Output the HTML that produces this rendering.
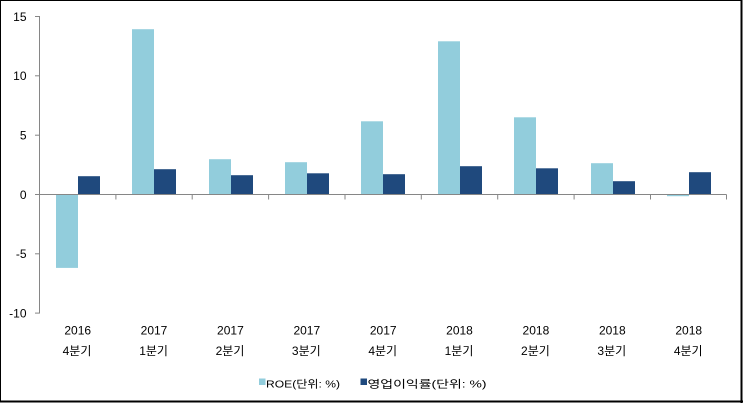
<!DOCTYPE html>
<html><head><meta charset="utf-8"><style>
html,body{margin:0;padding:0;background:#fff;}
svg{display:block;}
text{font-family:"Liberation Sans","Noto Sans CJK KR",sans-serif;fill:#000;}
</style></head><body>
<svg width="743" height="403" viewBox="0 0 743 403" xmlns="http://www.w3.org/2000/svg">
<rect x="0" y="0" width="743" height="403" fill="#fff"/>
<!-- border -->
<rect x="0.5" y="0.5" width="741" height="401" fill="none" stroke="#000" stroke-width="1"/>
<line x1="741.5" y1="0" x2="741.5" y2="403" stroke="#000" stroke-width="2"/>
<line x1="0" y1="401.5" x2="743" y2="401.5" stroke="#000" stroke-width="2"/>

<!-- ROE bars -->
<g fill="#92CDDC">
<rect x="56" y="194.5" width="22" height="73.4"/>
<rect x="132" y="29.2" width="22" height="165.3"/>
<rect x="209" y="159.2" width="22" height="35.3"/>
<rect x="285" y="162.2" width="22" height="32.3"/>
<rect x="361" y="121.3" width="22" height="73.2"/>
<rect x="438" y="41.3" width="22" height="153.2"/>
<rect x="514" y="117.3" width="22" height="77.2"/>
<rect x="591" y="163.2" width="22" height="31.3"/>
<rect x="667" y="194.5" width="22" height="1.7"/>
</g>
<!-- Operating margin bars -->
<g fill="#1F497D">
<rect x="78" y="176.2" width="22" height="18.3"/>
<rect x="154" y="169.2" width="22" height="25.3"/>
<rect x="231" y="175.2" width="22" height="19.3"/>
<rect x="307" y="173.3" width="22" height="21.2"/>
<rect x="383" y="174.2" width="22" height="20.3"/>
<rect x="460" y="166.2" width="22" height="28.3"/>
<rect x="536" y="168.3" width="22" height="26.2"/>
<rect x="613" y="181.2" width="22" height="13.3"/>
<rect x="689" y="172.2" width="22" height="22.3"/>
</g>

<!-- axes -->
<g stroke="#868686" stroke-width="1" fill="none">
<line x1="39.5" y1="16" x2="39.5" y2="313.5"/>
<line x1="39" y1="194.5" x2="726.5" y2="194.5"/>
<line x1="35" y1="16.5" x2="39.5" y2="16.5"/>
<line x1="35" y1="75.8" x2="39.5" y2="75.8"/>
<line x1="35" y1="135.2" x2="39.5" y2="135.2"/>
<line x1="35" y1="194.5" x2="39.5" y2="194.5"/>
<line x1="35" y1="253.8" x2="39.5" y2="253.8"/>
<line x1="35" y1="313.1" x2="39.5" y2="313.1"/>
<line x1="39.5" y1="194.5" x2="39.5" y2="199.5"/>
<line x1="115.9" y1="194.5" x2="115.9" y2="199.5"/>
<line x1="192.2" y1="194.5" x2="192.2" y2="199.5"/>
<line x1="268.6" y1="194.5" x2="268.6" y2="199.5"/>
<line x1="345" y1="194.5" x2="345" y2="199.5"/>
<line x1="421.3" y1="194.5" x2="421.3" y2="199.5"/>
<line x1="497.7" y1="194.5" x2="497.7" y2="199.5"/>
<line x1="574.1" y1="194.5" x2="574.1" y2="199.5"/>
<line x1="650.5" y1="194.5" x2="650.5" y2="199.5"/>
<line x1="726.5" y1="194.5" x2="726.5" y2="199.5"/>
</g>

<!-- y labels -->
<g font-size="12" text-anchor="end">
<text x="26.5" y="20.8">15</text>
<text x="26.5" y="80.1">10</text>
<text x="26.5" y="139.5">5</text>
<text x="26.5" y="198.8">0</text>
<text x="26.5" y="258.1">-5</text>
<text x="26.5" y="317.4">-10</text>
</g>

<!-- category labels -->
<g font-size="12" text-anchor="middle">
<text x="77.7" y="334.3">2016</text><text x="77" y="355">4분기</text>
<text x="154" y="334.3">2017</text><text x="153.6" y="355">1분기</text>
<text x="230.4" y="334.3">2017</text><text x="230" y="355">2분기</text>
<text x="306.8" y="334.3">2017</text><text x="306.3" y="355">3분기</text>
<text x="383.2" y="334.3">2017</text><text x="382.7" y="355">4분기</text>
<text x="459.5" y="334.3">2018</text><text x="459" y="355">1분기</text>
<text x="535.9" y="334.3">2018</text><text x="535.4" y="355">2분기</text>
<text x="612.3" y="334.3">2018</text><text x="611.8" y="355">3분기</text>
<text x="688.7" y="334.3">2018</text><text x="688.2" y="355">4분기</text>
</g>

<!-- legend -->
<rect x="259" y="378.5" width="6.5" height="6.5" fill="#92CDDC"/>
<text x="266" y="387.3" font-size="10.5" textLength="74" lengthAdjust="spacingAndGlyphs">ROE(단위: %)</text>
<rect x="360.5" y="378.5" width="6.5" height="6.5" fill="#1F497D"/>
<text x="367.5" y="387.3" font-size="10.5" textLength="119" lengthAdjust="spacingAndGlyphs">영업이익률(단위: %)</text>
</svg>
</body></html>
